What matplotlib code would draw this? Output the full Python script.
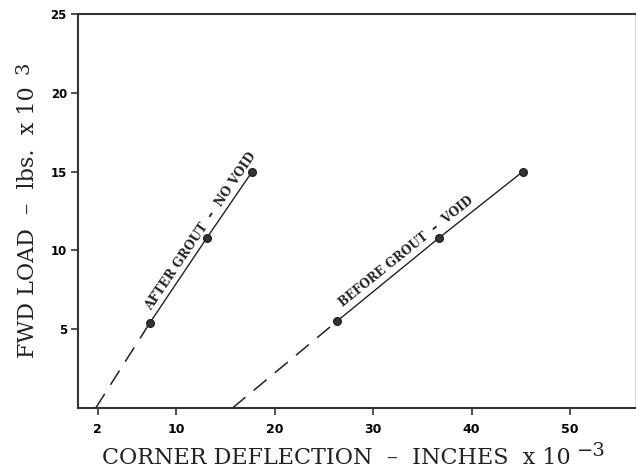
import numpy as np
import matplotlib
matplotlib.use("Agg")
import matplotlib.pyplot as plt

# ---- data ----
after_x = [7.3, 13.1, 17.7]
after_y = [5.4, 10.8, 15.0]
after_x0 = 1.8          # dashed extrapolation to zero load
before_x = [26.3, 36.7, 45.2]
before_y = [5.5, 10.8, 15.0]
before_x0 = 15.7
xticks = [2, 10, 20, 30, 40, 50]
yticks = [5, 10, 15, 20, 25]
after_label = "AFTER GROUT  \u2013  NO VOID"
before_label = "BEFORE GROUT  \u2013  VOID"
xlabel = "CORNER DEFLECTION  \u2013  INCHES  x 10"
xsup = "\u22123"
ylabel = "FWD LOAD  \u2013  lbs.  x 10"
ysup = "3"

W, H = 636, 468
fig = plt.figure(figsize=(W / 100, H / 100), dpi=100)
ax = fig.add_axes([78 / W, (H - 408) / H, (635 - 78) / W, (408 - 14) / H])
ax.set_xlim(0, 56.6)
ax.set_ylim(0, 25)

ink = "#222222"
# solid lines through the measured points
ax.plot(after_x, after_y, color=ink, lw=1.0, marker="o", ms=5.5,
        mfc="#333333", mec=ink, zorder=3)
ax.plot(before_x, before_y, color=ink, lw=1.0, marker="o", ms=5.5,
        mfc="#333333", mec=ink, zorder=3)
# dashed extrapolations
ax.plot([after_x0, after_x[0]], [0, after_y[0]], color=ink, lw=1.1,
        dashes=(11, 7))
ax.plot([before_x0, before_x[0]], [0, before_y[0]], color=ink, lw=1.1,
        dashes=(11, 7))

# rotated labels along lines
def line_label(xs, ys, text, frac, offset, size):
    x = xs[0] + frac * (xs[-1] - xs[0])
    y = ys[0] + frac * (ys[-1] - ys[0])
    p0 = ax.transData.transform((xs[0], ys[0]))
    p1 = ax.transData.transform((xs[-1], ys[-1]))
    ang = np.degrees(np.arctan2(p1[1] - p0[1], p1[0] - p0[0]))
    nx, ny = -np.sin(np.radians(ang)), np.cos(np.radians(ang))
    ax.annotate(text, (x, y), xytext=(nx * offset, ny * offset),
                textcoords="offset pixels", rotation=ang,
                rotation_mode="anchor", ha="center", va="center",
                fontsize=size, fontweight="bold", family="DejaVu Serif",
                color=ink)

line_label(after_x, after_y, after_label, 0.57, 9, 8.8)
line_label(before_x, before_y, before_label, 0.41, 11, 8.6)

# axes styling
for s in ["left", "bottom", "top"]:
    ax.spines[s].set_linewidth(1.5)
    ax.spines[s].set_color("#333333")
ax.spines["right"].set_color("#dddddd")
ax.spines["right"].set_linewidth(0.8)

ax.set_xticks(xticks)
ax.set_yticks(yticks)
ax.tick_params(axis="both", direction="out", length=5, width=1.2,
               color="#333333")
ax.tick_params(axis="x", labelsize=9, pad=6)
ax.tick_params(axis="y", labelsize=8.5, pad=3)
for lab in ax.get_xticklabels() + ax.get_yticklabels():
    lab.set_fontweight("bold")

xl = fig.text(336.5 / W, 4.5 / H, xlabel, ha="center", va="baseline",
              fontsize=16, family="DejaVu Serif", color=ink)
yl = fig.text(28.5 / W, (H - 222) / H, ylabel, ha="center", va="center",
              rotation=90, fontsize=16, family="DejaVu Serif", color=ink)

fig.canvas.draw()
r = fig.canvas.get_renderer()
bx = xl.get_window_extent(r)
fig.text((bx.x1 + 6) / W, 12 / H, xsup, ha="left",
         va="baseline", fontsize=14, family="DejaVu Serif", color=ink)
by = yl.get_window_extent(r)
fig.text(24 / W, (by.y1 + 12) / H, ysup, ha="center", va="bottom",
         rotation=90, fontsize=14, family="DejaVu Serif", color=ink)

fig.savefig("out.png", dpi=100)
